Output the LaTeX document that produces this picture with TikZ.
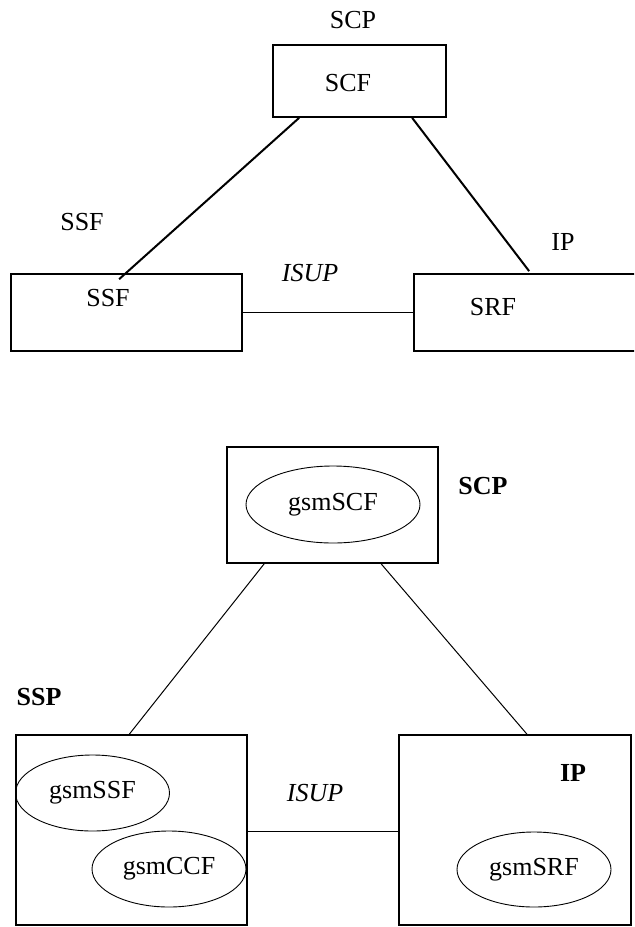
\documentclass[tikz,border=0pt]{standalone}
\usepackage{fontspec}
\setmainfont{Liberation Serif}
\usetikzlibrary{calc,shapes.geometric}
\tikzset{fe box/.style={draw, line width=0.85pt, inner sep=0pt},
         fe ell/.style={draw, ellipse, line width=0.45pt, inner sep=0pt,
                        minimum width=77pt, minimum height=38pt}}

\begin{document}
\begin{tikzpicture}[x=0.5pt, y=-0.5pt, font=\fontsize{13}{15}\selectfont]
        \useasboundingbox (0,0) rectangle (634,927);
        \clip (0,0) rectangle (634,927);
        % IN view
        \node[fe box, minimum width=86.5pt, minimum height=36pt] (scf) at (359.5,81) {};
        \node[fe box, minimum width=115.5pt, minimum height=38.5pt] (ssf) at (126.5,312.5) {};
        \node[fe box, minimum width=111pt, minimum height=38.5pt] (srf) at (525,312.5) {};
        \node (scft) at (348,83) {SCF};
        \node (ssft) at (108,298) {SSF};
        \node (srft) at (493,307) {SRF};
        \node (scp) at (353,20) {SCP};
        \node (ssfl) at (82,222) {SSF};
        \node (ip) at (563,242) {IP};
        \node (isup) at (310,273) {\itshape ISUP};
        \coordinate (ssfc) at ($(ssf.north west)+(109,6)$);
        \coordinate (srfc) at ($(srf.north west)+(116,-2)$);
        \draw[line width=1pt] ($(scf.south west)+(27,0)$) -- (ssfc);
        \draw[line width=1pt] ($(scf.south west)+(140,0)$) -- (srfc);
        \draw[line width=0.8pt] (ssf.east) -- (srf.west);
        % CAMEL view
        \node[fe box, minimum width=105.5pt, minimum height=58pt] (scpb) at (332.5,505) {};
        \node[fe box, minimum width=115.5pt, minimum height=95pt] (sspb) at (131.5,830.25) {};
        \node[fe box, minimum width=116pt, minimum height=95pt] (ipb) at (515,830.25) {};
        \node[fe ell, minimum width=87pt, minimum height=38.5pt] (gscf) at (333,504.5) {gsmSCF};
        \node[fe ell] (gssf) at (92.5,793) {gsmSSF};
        \node[fe ell] (gccf) at (169,869) {gsmCCF};
        \node[fe ell, minimum height=37.5pt] (gsrf) at (534,869.5) {gsmSRF};
        \node[font=\fontsize{13}{15}\selectfont\bfseries] (scpl) at (483,486) {SCP};
        \node[font=\fontsize{13}{15}\selectfont\bfseries] (sspl) at (39,697) {SSP};
        \node[font=\fontsize{13}{15}\selectfont\bfseries] (ipl) at (573,773) {IP};
        \node (isup2) at (315,793) {\itshape ISUP};
        \draw[line width=0.5pt] ($(scpb.south west)+(38,0)$) -- ($(sspb.north west)+(114,0)$);
        \draw[line width=0.5pt] ($(scpb.south west)+(155,0)$) -- ($(ipb.north west)+(129,0)$);
        \draw[line width=0.5pt] ($(sspb.east)+(0,1.5)$) -- ($(ipb.west)+(0,1.5)$);
\end{tikzpicture}
\end{document}
